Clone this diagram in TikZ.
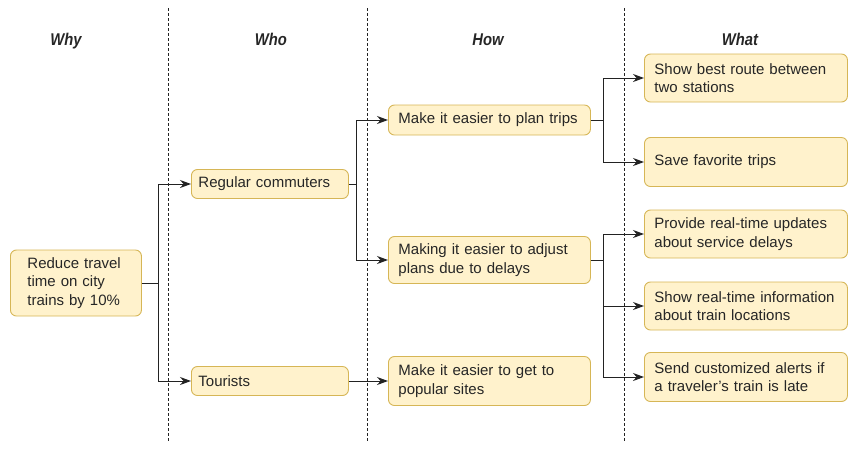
\documentclass[tikz,border=0pt]{standalone}
\usepackage{fontspec}
\setmainfont{Liberation Sans}
\newfontfamily\headfont[FakeStretch=0.87]{Liberation Sans}
\usetikzlibrary{arrows.meta}
\definecolor{boxfill}{HTML}{FFF2CC}
\definecolor{boxline}{HTML}{D6B656}
\definecolor{wire}{HTML}{222222}

\begin{document}
\begin{tikzpicture}[x=1pt,y=-1pt,>={Stealth[length=11pt,width=8pt]},
	box/.style={draw=boxline,fill=boxfill,rounded corners=6pt,line width=0.9pt,anchor=west,align=left,
		inner xsep=10pt,inner ysep=0pt,font=\fontsize{15}{18.5}\selectfont,text=black!85},
	head/.style={anchor=base,font=\headfont\fontsize{17}{19}\selectfont\bfseries\itshape,text=black!85},
	sep/.style={wire,line width=0.8pt,dash pattern=on 3pt off 2pt},
	link/.style={->,wire,line width=1pt}]
	\useasboundingbox (0,0) rectangle (858,451);
	% column heads and separators
	\node[head] (why) at (66,45) {Why};
	\node[head] (who) at (271,45) {Who};
	\node[head] (how) at (488,45) {How};
	\node[head] (what) at (740,45) {What};
	\foreach \x in {168,367,624} \draw[sep] (\x,8) -- (\x,442);
	% boxes
	\node[box,text width=97pt,inner xsep=17pt,minimum height=66pt] (goal) at (10,283) {Reduce travel\\time on city\\trains by 10\%};
	\node[box,text width=143pt,inner xsep=7pt,minimum height=29pt] (commuters) at (191,184) {Regular commuters};
	\node[box,text width=143pt,inner xsep=7pt,minimum height=29pt] (tourists) at (191,381) {Tourists};
	\node[box,text width=182pt,minimum height=30pt] (plan) at (388,120) {Make it easier to plan trips};
	\node[box,text width=182pt,minimum height=47pt] (adjust) at (388,260) {Making it easier to adjust\\plans due to delays};
	\node[box,text width=182pt,minimum height=49pt] (sites) at (388,381) {Make it easier to get to\\popular sites};
	\node[box,text width=183pt,minimum height=48pt] (route) at (644,78) {Show best route between\\two stations};
	\node[box,text width=183pt,minimum height=49pt] (favs) at (644,162) {Save favorite trips};
	\node[box,text width=183pt,minimum height=48pt] (updates) at (644,234) {Provide real-time updates\\about service delays};
	\node[box,text width=183pt,minimum height=48pt] (locations) at (644,306) {Show real-time information\\about train locations};
	\node[box,text width=183pt,minimum height=49pt] (alerts) at (644,377) {Send customized alerts if\\a traveler’s train is late};
	% connectors
	\draw[link] (goal.east) -- ++(17,0) |- (commuters.west);
	\draw[link] (goal.east) -- ++(17,0) |- (tourists.west);
	\draw[link] (commuters.east) -- ++(8,0) |- (plan.west);
	\draw[link] (commuters.east) -- ++(8,0) |- (adjust.west);
	\draw[link] (tourists.east) -- (sites.west);
	\draw[link] (plan.east) -- ++(13,0) |- (route.west);
	\draw[link] (plan.east) -- ++(13,0) |- (favs.west);
	\foreach \t in {updates,locations,alerts} \draw[link] (adjust.east) -- ++(13,0) |- (\t.west);
\end{tikzpicture}
\end{document}
